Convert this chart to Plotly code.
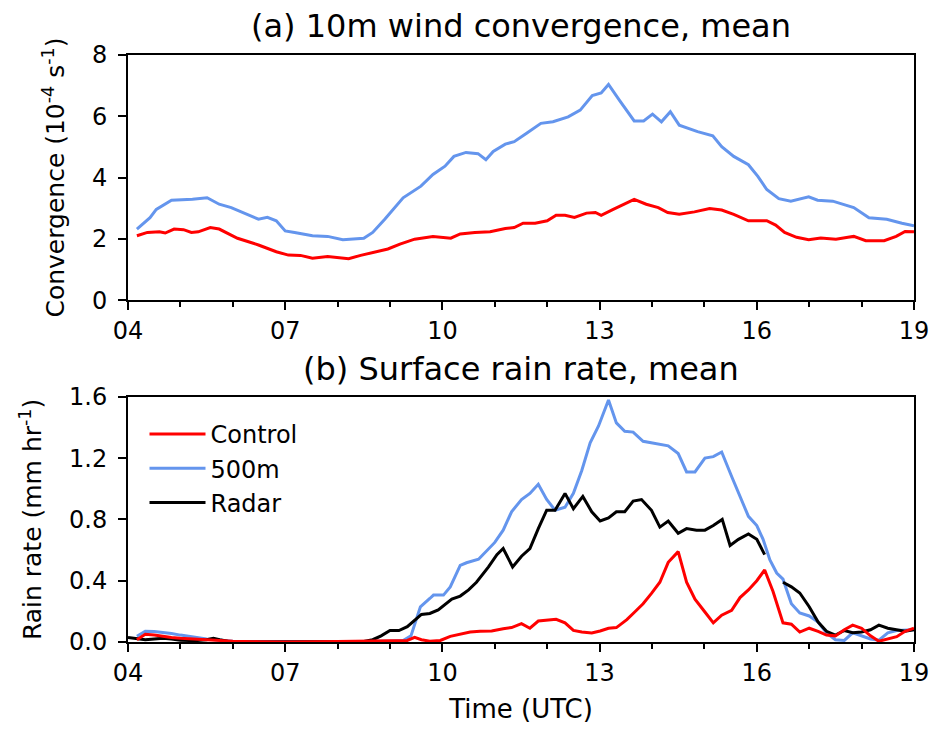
import plotly.graph_objects as go
from plotly.subplots import make_subplots

# ---------------- data ----------------
# (a) 10 m wind convergence (10^-4 s^-1)
conv_500m_t = [4.17, 4.42, 4.54, 4.83, 5.23, 5.51, 5.74, 5.97, 6.49, 6.66, 6.83, 7.0, 7.18, 7.52,
               7.81, 8.1, 8.5, 8.67, 8.9, 9.25, 9.59, 9.82, 10.05, 10.22, 10.45, 10.68, 10.83,
               10.97, 11.2, 11.37, 11.6, 11.88, 12.11, 12.4, 12.63, 12.86, 13.03, 13.17, 13.38,
               13.66, 13.84, 14.01, 14.18, 14.35, 14.52, 14.87, 15.16, 15.33, 15.56, 15.84,
               16.02, 16.19, 16.42, 16.65, 16.99, 17.16, 17.45, 17.85, 18.14, 18.48, 18.77, 19.0]
conv_500m = [2.32, 2.69, 2.96, 3.26, 3.29, 3.34, 3.13, 3.02, 2.64, 2.70, 2.59, 2.26, 2.21, 2.10,
             2.08, 1.97, 2.02, 2.21, 2.64, 3.34, 3.72, 4.10, 4.37, 4.69, 4.82, 4.78, 4.58,
             4.85, 5.09, 5.17, 5.44, 5.77, 5.82, 5.98, 6.20, 6.68, 6.76, 7.04, 6.52,
             5.85, 5.85, 6.07, 5.82, 6.15, 5.71, 5.50, 5.36, 5.01, 4.69, 4.42,
             4.04, 3.61, 3.31, 3.23, 3.37, 3.26, 3.23, 3.02, 2.69, 2.64, 2.51, 2.43]

conv_ctrl_t = [4.17, 4.37, 4.6, 4.71, 4.88, 5.06, 5.21, 5.34, 5.57, 5.74, 6.09, 6.49, 6.83, 7.06,
               7.29, 7.52, 7.81, 7.98, 8.21, 8.44, 8.67, 8.96, 9.19, 9.47, 9.82, 10.05, 10.16,
               10.34, 10.62, 10.91, 11.2, 11.37, 11.54, 11.77, 12.0, 12.17, 12.34, 12.52, 12.75,
               12.92, 13.03, 13.26, 13.49, 13.66, 13.89, 14.12, 14.3, 14.52, 14.81, 15.1, 15.33,
               15.56, 15.84, 16.19, 16.36, 16.53, 16.76, 16.99, 17.22, 17.51, 17.74, 17.85,
               18.08, 18.43, 18.66, 18.83, 19.0]
conv_ctrl = [2.10, 2.21, 2.23, 2.19, 2.32, 2.30, 2.21, 2.23, 2.37, 2.32, 2.02, 1.80, 1.58, 1.47,
             1.46, 1.37, 1.42, 1.40, 1.35, 1.46, 1.56, 1.67, 1.83, 1.99, 2.08, 2.05, 2.02,
             2.16, 2.21, 2.23, 2.34, 2.37, 2.51, 2.51, 2.59, 2.77, 2.77, 2.70, 2.84,
             2.86, 2.77, 2.96, 3.16, 3.29, 3.13, 3.02, 2.86, 2.80, 2.88, 2.99, 2.94,
             2.80, 2.59, 2.59, 2.45, 2.21, 2.05, 1.97, 2.03, 1.99, 2.05, 2.08,
             1.94, 1.94, 2.08, 2.24, 2.23]

# (b) surface rain rate (mm hr^-1)
rain_ctrl_t = [4.17, 4.33, 4.5, 4.67, 4.83, 5.0, 5.33, 5.67, 6.0, 6.5, 7.0, 8.0, 8.5, 9.0, 9.33,
               9.47, 9.6, 9.76, 9.96, 10.15, 10.34, 10.53, 10.72, 10.94, 11.16, 11.32, 11.51,
               11.67, 11.83, 11.99, 12.17, 12.34, 12.5, 12.66, 12.85, 13.01, 13.17, 13.32,
               13.52, 13.67, 13.83, 13.99, 14.15, 14.31, 14.5, 14.66, 14.82, 15.01, 15.17,
               15.33, 15.52, 15.68, 15.84, 16.0, 16.15, 16.31, 16.5, 16.66, 16.82, 17.0,
               17.17, 17.33, 17.5, 17.67, 17.83, 18.0, 18.17, 18.33, 18.5, 18.67, 18.83, 19.0]
rain_ctrl = [0.015, 0.05, 0.045, 0.035, 0.03, 0.025, 0.018, 0.012, 0.005, 0.002, 0.0, 0.004,
             0.006, 0.008, 0.01, 0.03, 0.015, 0.005, 0.01, 0.037, 0.05, 0.065, 0.07, 0.072,
             0.087, 0.094, 0.12, 0.09, 0.137, 0.142, 0.148, 0.125, 0.076, 0.065, 0.059,
             0.072, 0.09, 0.094, 0.146, 0.196, 0.25, 0.317, 0.39, 0.52, 0.59, 0.39, 0.28,
             0.196, 0.125, 0.175, 0.207, 0.29, 0.34, 0.40, 0.47, 0.33, 0.125, 0.116, 0.065,
             0.09, 0.07, 0.045, 0.04, 0.08, 0.11, 0.09, 0.04, 0.005, 0.02, 0.035, 0.07, 0.09]

rain_500m_t = [4.17, 4.33, 4.5, 4.67, 4.83, 5.0, 5.17, 5.33, 5.5, 5.67, 5.83, 6.0, 6.5, 7.0,
               7.5, 8.0, 8.5, 9.0, 9.25, 9.4, 9.58, 9.76, 9.83, 10.02, 10.15, 10.34, 10.46,
               10.69, 10.85, 11.0, 11.16, 11.32, 11.51, 11.67, 11.83, 11.99, 12.15, 12.34,
               12.5, 12.66, 12.82, 12.98, 13.17, 13.32, 13.48, 13.64, 13.83, 13.99, 14.15,
               14.31, 14.5, 14.66, 14.82, 15.01, 15.17, 15.33, 15.52, 15.68, 15.84, 16.0,
               16.12, 16.25, 16.38, 16.5, 16.66, 16.82, 17.0, 17.17, 17.33, 17.5, 17.67,
               17.83, 18.0, 18.17, 18.33, 18.5, 18.67, 18.83, 19.0]
rain_500m = [0.037, 0.07, 0.068, 0.062, 0.055, 0.045, 0.035, 0.028, 0.02, 0.015, 0.01, 0.005,
             0.003, 0.002, 0.003, 0.005, 0.004, 0.006, 0.01, 0.04, 0.23, 0.284, 0.306, 0.306,
             0.36, 0.50, 0.517, 0.54, 0.60, 0.65, 0.73, 0.85, 0.93, 0.97, 1.03, 0.93, 0.86,
             0.88, 0.97, 1.12, 1.30, 1.41, 1.58, 1.43, 1.375, 1.37, 1.31, 1.30, 1.29, 1.28,
             1.23, 1.11, 1.11, 1.20, 1.21, 1.24, 1.08, 0.95, 0.82, 0.76, 0.67, 0.535, 0.45,
             0.41, 0.25, 0.19, 0.17, 0.13, 0.06, 0.015, 0.01, 0.06, 0.04, 0.02, 0.012, 0.06,
             0.075, 0.078, 0.08]

rain_radar_t = [4.0, 4.17, 4.33, 4.5, 4.67, 4.83, 5.0, 5.17, 5.33, 5.5, 5.63, 5.75, 5.9, 6.17,
                7.0, 8.0, 8.33, 8.5, 8.67, 8.83, 9.0, 9.17, 9.33, 9.5, 9.6, 9.76, 9.92, 10.18,
                10.34, 10.5, 10.65, 10.88, 11.04, 11.16, 11.34, 11.51, 11.67, 11.83, 11.99,
                12.15, 12.34, 12.5, 12.68, 12.85, 13.01, 13.17, 13.32, 13.48, 13.64, 13.8,
                13.99, 14.15, 14.31, 14.5, 14.66, 14.85, 15.01, 15.17, 15.34, 15.49, 15.65,
                15.84, 16.0, 16.15, 16.3, 16.5, 16.66, 16.82, 17.0, 17.17, 17.33, 17.5, 17.67,
                17.83, 18.0, 18.17, 18.33, 18.5, 18.67, 18.83, 19.0]
rain_radar = [0.03, 0.02, 0.015, 0.02, 0.025, 0.02, 0.012, 0.01, 0.01, 0.015, 0.025, 0.015,
              0.005, 0.0, 0.0, 0.0, 0.0, 0.003, 0.015, 0.04, 0.075, 0.075, 0.10, 0.15, 0.18,
              0.186, 0.21, 0.28, 0.30, 0.34, 0.39, 0.49, 0.57, 0.61, 0.49, 0.56, 0.61, 0.74,
              0.86, 0.86, 0.97, 0.87, 0.95, 0.85, 0.79, 0.81, 0.85, 0.85, 0.92, 0.93, 0.86,
              0.75, 0.79, 0.71, 0.74, 0.73, 0.73, 0.76, 0.80, 0.63, 0.67, 0.705, 0.67, 0.57,
              None, 0.39, 0.36, 0.32, 0.23, 0.13, 0.07, 0.045, 0.075, 0.06, 0.065, 0.08, 0.11,
              0.09, 0.08, 0.07, 0.08]

x_tickvals = [4, 7, 10, 13, 16, 19]
x_ticktext = ["04", "07", "10", "13", "16", "19"]
colors = {"Control": "#ff0000", "500m": "#6495ed", "Radar": "#000000"}

# ---------------- figure ----------------
FONT = "DejaVu Sans, Liberation Sans, Arial, sans-serif"
fig = make_subplots(rows=2, cols=1, vertical_spacing=0.1648)

lw = 3
fig.add_trace(go.Scatter(x=conv_ctrl_t, y=conv_ctrl, mode="lines", name="Control",
                         line=dict(color=colors["Control"], width=lw), showlegend=False), 1, 1)
fig.add_trace(go.Scatter(x=conv_500m_t, y=conv_500m, mode="lines", name="500m",
                         line=dict(color=colors["500m"], width=lw), showlegend=False), 1, 1)

fig.add_trace(go.Scatter(x=rain_500m_t, y=rain_500m, mode="lines", name="500m",
                         legendrank=2,
                         line=dict(color=colors["500m"], width=lw), showlegend=True), 2, 1)
fig.add_trace(go.Scatter(x=rain_radar_t, y=rain_radar, mode="lines", name="Radar",
                         connectgaps=False, legendrank=3,
                         line=dict(color=colors["Radar"], width=lw), showlegend=True), 2, 1)
fig.add_trace(go.Scatter(x=rain_ctrl_t, y=rain_ctrl, mode="lines", name="Control",
                         legendrank=1,
                         line=dict(color=colors["Control"], width=lw), showlegend=True), 2, 1)

axis_common = dict(showline=True, linecolor="black", linewidth=2, mirror=True,
                   ticks="outside", tickcolor="black", tickwidth=2, ticklen=8,
                   showgrid=False, zeroline=False,
                   tickfont=dict(family=FONT, size=24, color="black"))

for r in (1, 2):
    fig.update_xaxes(range=[4, 19], tickvals=x_tickvals, ticktext=x_ticktext,
                     minor=dict(dtick=1, tick0=4, ticks="outside", ticklen=5,
                                tickcolor="black", tickwidth=2),
                     **axis_common, row=r, col=1)

fig.update_yaxes(range=[0, 8], tickvals=[0, 2, 4, 6, 8], ticklabelstandoff=6,
                 **axis_common, row=1, col=1,
                 title=dict(text="Convergence (10<sup>-4</sup> s<sup>-1</sup>)",
                            font=dict(family=FONT, size=25, color="black"), standoff=20))
fig.update_yaxes(range=[0, 1.6], tickvals=[0, 0.4, 0.8, 1.2, 1.6], tickformat=".1f",
                 ticklabelstandoff=6, **axis_common, row=2, col=1,
                 title=dict(text="Rain rate (mm hr<sup>-1</sup>)",
                            font=dict(family=FONT, size=25, color="black"), standoff=20))
fig.update_xaxes(title=dict(text="Time (UTC)", font=dict(family=FONT, size=26, color="black"),
                            standoff=14), row=2, col=1)

fig.update_layout(
    width=943, height=731,
    margin=dict(l=128, r=29, t=55, b=85),
    paper_bgcolor="white", plot_bgcolor="white",
    font=dict(family=FONT, color="black"),
    showlegend=True,
    legend=dict(x=0.021, y=0.392, xanchor="left", yanchor="top",
                bgcolor="rgba(0,0,0,0)", font=dict(family=FONT, size=24, color="black"),
                tracegroupgap=0, itemwidth=56),
    annotations=[
        dict(text="(a) 10m wind convergence, mean", xref="paper", yref="paper",
             x=0.5, y=1.049, xanchor="center", yanchor="middle", showarrow=False,
             font=dict(family=FONT, size=32, color="black")),
        dict(text="(b) Surface rain rate, mean", xref="paper", yref="paper",
             x=0.5, y=0.4647, xanchor="center", yanchor="middle", showarrow=False,
             font=dict(family=FONT, size=32, color="black")),
    ],
)

fig.write_html("out.html")
